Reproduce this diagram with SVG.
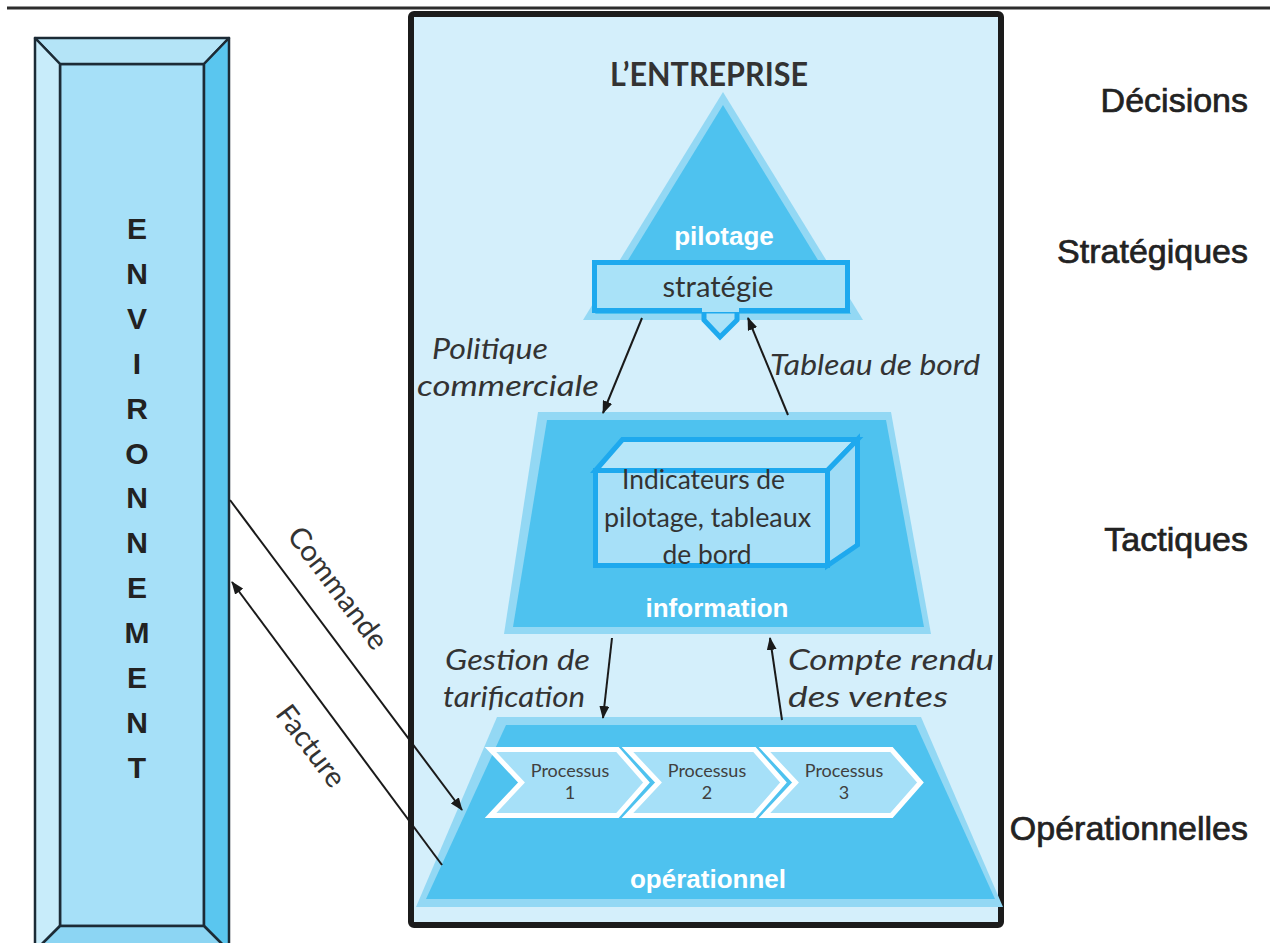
<svg xmlns="http://www.w3.org/2000/svg" width="1275" height="943" viewBox="0 0 1275 943">
<style>
.light{fill:#93d8f4}
.dark{fill:#4ec2ef}
.env{stroke:#1c2b36;stroke-width:2.5;stroke-linejoin:round}
.envl{font-family:"Liberation Sans",Arial,sans-serif;font-weight:bold;font-size:30px;fill:#222;text-anchor:middle}
.dec{font-family:"Liberation Sans",Arial,sans-serif;font-size:34px;fill:#222;stroke:#222;stroke-width:0.7;text-anchor:end}
.white{font-family:"Liberation Sans",Arial,sans-serif;font-weight:bold;font-size:26px;fill:#fff;text-anchor:middle}
.cal{font-family:Lato,"Open Sans",sans-serif;fill:#333}
.ital{font-family:Lato,"Open Sans",sans-serif;font-style:italic;font-size:29px;fill:#333}
.proc{font-family:Lato,"Open Sans",sans-serif;font-size:18px;fill:#404040;text-anchor:middle}
.chev{fill:#a6e0f8;stroke:#fff;stroke-width:5;stroke-linejoin:miter}
.bluebox{stroke:#1ea9ee;stroke-width:5;stroke-linejoin:miter}
.conn{stroke:#1a1a1a;stroke-width:2;fill:none}
</style>
<defs>
<marker id="ah" markerWidth="13" markerHeight="10" refX="12" refY="5" orient="auto" markerUnits="userSpaceOnUse">
<path d="M0,0 L13,5 L0,10 z" fill="#1a1a1a"/>
</marker>
</defs>
<rect width="1275" height="943" fill="#fff"/>
<line x1="7" y1="8" x2="1270" y2="8" stroke="#2d2d2d" stroke-width="3"/>

<g id="environnement">
<rect x="60" y="64" width="144" height="862" fill="#a6e0f8" class="env"/>
<polygon points="35,38 229,38 204,64 60,64" fill="#b4e4f7" class="env"/>
<polygon points="35,38 60,64 60,926 35,951" fill="#c8ecfa" class="env"/>
<polygon points="229,38 204,64 204,926 229,951" fill="#5ac6ef" class="env"/>
<polygon points="60,926 204,926 229,951 35,951" fill="#8cd5f3" class="env"/>
<text class="envl" x="137" y="239">E</text>
<text class="envl" x="137" y="284">N</text>
<text class="envl" x="137" y="329">V</text>
<text class="envl" x="137" y="374">I</text>
<text class="envl" x="137" y="419">R</text>
<text class="envl" x="137" y="464">O</text>
<text class="envl" x="137" y="508">N</text>
<text class="envl" x="137" y="553">N</text>
<text class="envl" x="137" y="598">E</text>
<text class="envl" x="137" y="643">M</text>
<text class="envl" x="137" y="688">E</text>
<text class="envl" x="137" y="733">N</text>
<text class="envl" x="137" y="778">T</text>
</g>

<g id="entreprise">
<rect x="411" y="14" width="590" height="911" rx="3" fill="#d4effb" stroke="#1b1b1b" stroke-width="6"/>
<text class="cal" x="709" y="86" font-size="33" font-weight="bold" fill="#222" text-anchor="middle" textLength="198" lengthAdjust="spacingAndGlyphs">L’ENTREPRISE</text>
</g>

<g id="pilotage">
<polygon class="light" points="723,92 583,320 863,320"/>
<polygon class="dark" points="723,105 595,314 851,314"/>
<text class="white" x="724" y="245" font-size="27">pilotage</text>
</g>

<g id="strategie">
<polygon points="704,311 704,320 720,337 737,320 737,311" fill="#a9e2f8" class="bluebox"/>
<rect x="594.5" y="262.5" width="253" height="48" fill="#a9e2f8" class="bluebox"/>
<rect x="702" y="306" width="37" height="6" fill="#a9e2f8"/>
<text class="cal" x="718" y="297" font-size="29" text-anchor="middle" textLength="111" lengthAdjust="spacingAndGlyphs">stratégie</text>
</g>

<g id="information">
<polygon class="light" points="538,412 891,412 931,634 504,634"/>
<polygon class="dark" points="547,420 886,420 924,627 513,627"/>
<text class="white" x="717" y="617">information</text>
</g>

<g id="indicateurs">
<polygon points="595.5,470.5 622.5,439.5 857.5,439.5 827.5,470.5" fill="#b5e6f9" class="bluebox"/>
<polygon points="827.5,470.5 857.5,439.5 857.5,545 827.5,565.5" fill="#9fdcf6" class="bluebox"/>
<rect x="595.5" y="470.5" width="232" height="95" fill="#a7e0f8" class="bluebox"/>
<text class="cal" font-size="27" text-anchor="middle">
<tspan x="707" y="489" textLength="163" lengthAdjust="spacingAndGlyphs">Indicateurs de</tspan>
<tspan x="711" y="527" textLength="207" lengthAdjust="spacingAndGlyphs">pilotage, tableaux</tspan>
<tspan x="707" y="564" textLength="89" lengthAdjust="spacingAndGlyphs">de bord</tspan>
</text>
</g>

<g id="operationnel">
<polygon class="light" points="497,717 921,717 1003,907 416,907"/>
<polygon class="dark" points="506,725 916,725 995,899 426,899"/>
<text class="white" x="708" y="888">opérationnel</text>
</g>

<g id="processus1">
<path class="chev" d="M490.5,749.5 H617.5 L646.5,782.5 L617.5,815.5 H490.5 L521.5,782.5 Z"/>
<text class="proc" x="570" y="777">Processus</text>
<text class="proc" x="570" y="799">1</text>
</g>
<g id="processus2">
<path class="chev" d="M627.5,749.5 H754.5 L783.5,782.5 L754.5,815.5 H627.5 L658.5,782.5 Z"/>
<text class="proc" x="707" y="777">Processus</text>
<text class="proc" x="707" y="799">2</text>
</g>
<g id="processus3">
<path class="chev" d="M764.5,749.5 H891.5 L920.5,782.5 L891.5,815.5 H764.5 L795.5,782.5 Z"/>
<text class="proc" x="844" y="777">Processus</text>
<text class="proc" x="844" y="799">3</text>
</g>

<g id="decisions">
<text class="dec" x="1248" y="112" font-size="37">Décisions</text>
<text class="dec" x="1248" y="263">Stratégiques</text>
<text class="dec" x="1248" y="551">Tactiques</text>
<text class="dec" x="1248" y="840">Opérationnelles</text>
</g>

<g id="connecteurs">
<line class="conn" x1="642" y1="318" x2="603" y2="413" marker-end="url(#ah)"/>
<line class="conn" x1="788" y1="415" x2="748" y2="318" marker-end="url(#ah)"/>
<line class="conn" x1="612" y1="638" x2="603" y2="718" marker-end="url(#ah)"/>
<line class="conn" x1="782" y1="720" x2="770" y2="638" marker-end="url(#ah)"/>
<line class="conn" x1="230" y1="500" x2="462" y2="810" marker-end="url(#ah)"/>
<line class="conn" x1="442" y1="865" x2="232" y2="582" marker-end="url(#ah)"/>
<text class="ital" x="432" y="359" textLength="116" lengthAdjust="spacingAndGlyphs">Politique</text>
<text class="ital" x="417" y="396" textLength="182" lengthAdjust="spacingAndGlyphs">commerciale</text>
<text class="ital" x="770" y="375" textLength="210" lengthAdjust="spacingAndGlyphs">Tableau de bord</text>
<text class="ital" x="445" y="670" textLength="145" lengthAdjust="spacingAndGlyphs">Gestion de</text>
<text class="ital" x="443" y="707" textLength="142" lengthAdjust="spacingAndGlyphs">tarification</text>
<text class="ital" x="788" y="670" textLength="206" lengthAdjust="spacingAndGlyphs">Compte rendu</text>
<text class="ital" x="788" y="707" textLength="160" lengthAdjust="spacingAndGlyphs">des ventes</text>
<text class="cal" font-size="29" text-anchor="middle" transform="translate(330,594) rotate(53)">Commande</text>
<text class="cal" font-size="29" text-anchor="middle" transform="translate(303,752) rotate(53)">Facture</text>
</g>
</svg>
